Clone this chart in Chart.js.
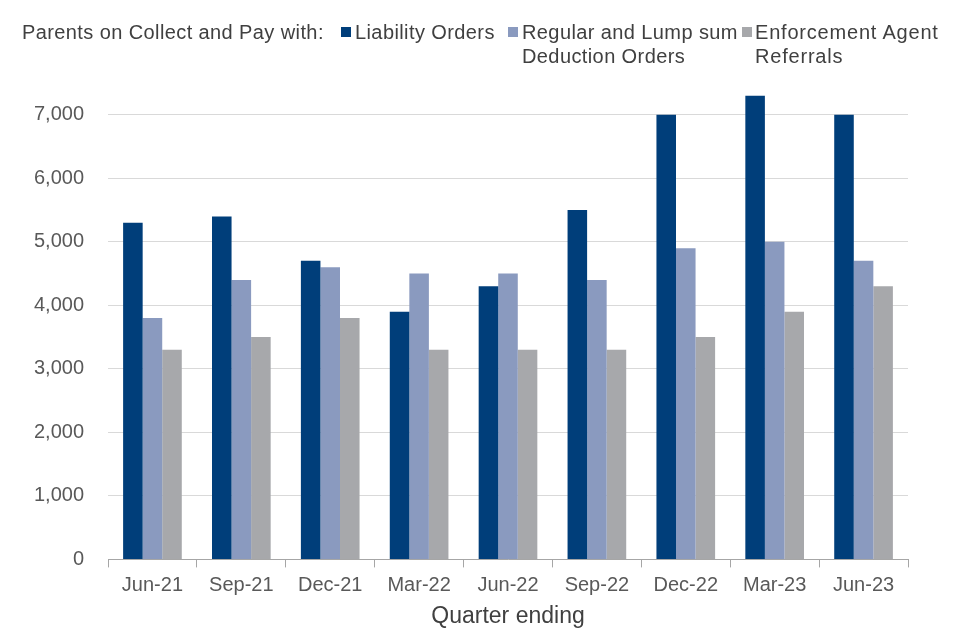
<!DOCTYPE html>
<html>
<head>
<meta charset="utf-8">
<script src="https://cdn.jsdelivr.net/npm/chart.js@4"></script>
<style>
  body { margin: 0; background: #fff; }
  #wrap { position: relative; width: 960px; height: 640px; font-family: "Liberation Sans", Arial, sans-serif; color: #404040; }
  #legend { position: absolute; left: 0; top: 0; width: 960px; height: 80px; font-size: 20px; letter-spacing: 0.4px; }
  #legend span { position: absolute; white-space: nowrap; line-height: 24px; }
  #legend i { position: absolute; width: 10px; height: 10px; }
</style>
</head>
<body>
<div id="wrap">
  <canvas id="chart" width="960" height="640"></canvas>
  <div id="legend">
    <span style="left:22px; top:20px;">Parents on Collect and Pay with:</span>
    <i style="left:341px; top:27px; background:#003e7a;"></i>
    <span style="left:355px; top:20px;">Liability Orders</span>
    <i style="left:508px; top:27px; background:#8a9abf;"></i>
    <span style="left:522px; top:20px;">Regular and Lump sum<br>Deduction Orders</span>
    <i style="left:742px; top:27px; background:#a7a8ab;"></i>
    <span style="left:755px; top:20px; letter-spacing: 0.8px;">Enforcement Agent<br>Referrals</span>
  </div>
</div>
<script>
const quarters = ['Jun-21', 'Sep-21', 'Dec-21', 'Mar-22', 'Jun-22', 'Sep-22', 'Dec-22', 'Mar-23', 'Jun-23'];
const liabilityOrders = [5300, 5400, 4700, 3900, 4300, 5500, 7000, 7300, 7000];
const deductionOrders = [3800, 4400, 4600, 4500, 4500, 4400, 4900, 5000, 4700];
const agentReferrals = [3300, 3500, 3800, 3300, 3300, 3300, 3500, 3900, 4300];
const yTicks = [0, 1000, 2000, 3000, 4000, 5000, 6000, 7000];

const ctx = document.getElementById('chart').getContext('2d');
new Chart(ctx, {
  type: 'bar',
  data: {
    labels: quarters,
    datasets: [
      { label: 'Liability Orders', data: liabilityOrders, backgroundColor: '#003e7a' },
      { label: 'Regular and Lump sum Deduction Orders', data: deductionOrders, backgroundColor: '#8a9abf' },
      { label: 'Enforcement Agent Referrals', data: agentReferrals, backgroundColor: '#a7a8ab' }
    ]
  },
  options: {
    responsive: false,
    animation: false,
    datasets: { bar: { categoryPercentage: 0.66, barPercentage: 1 } },
    layout: { padding: { top: 83, right: 52, bottom: 10, left: 0 } },
    plugins: { legend: { display: false }, tooltip: { enabled: false } },
    scales: {
      x: {
        afterFit: axis => { axis.height -= 5; },
        grid: { offset: true, drawOnChartArea: false, drawTicks: true, tickLength: 8, color: '#a6a6a6' },
        border: { color: '#a6a6a6' },
        ticks: { color: '#595959', font: { family: 'Liberation Sans', size: 20 }, padding: 6 },
        title: { display: true, text: 'Quarter ending', color: '#404040', font: { family: 'Liberation Sans', size: 23 }, padding: { top: 4, bottom: 0 } }
      },
      y: {
        min: 0,
        max: 7500,
        afterBuildTicks: axis => { axis.ticks = yTicks.map(v => ({ value: v })); },
        afterFit: axis => { axis.width = 108; },
        grid: { color: '#d9d9d9', drawTicks: false },
        border: { display: false },
        ticks: { color: '#595959', font: { family: 'Liberation Sans', size: 20 }, padding: 24,
          callback: v => v.toLocaleString('en-GB') }
      }
    }
  }
});
</script>
</body>
</html>
